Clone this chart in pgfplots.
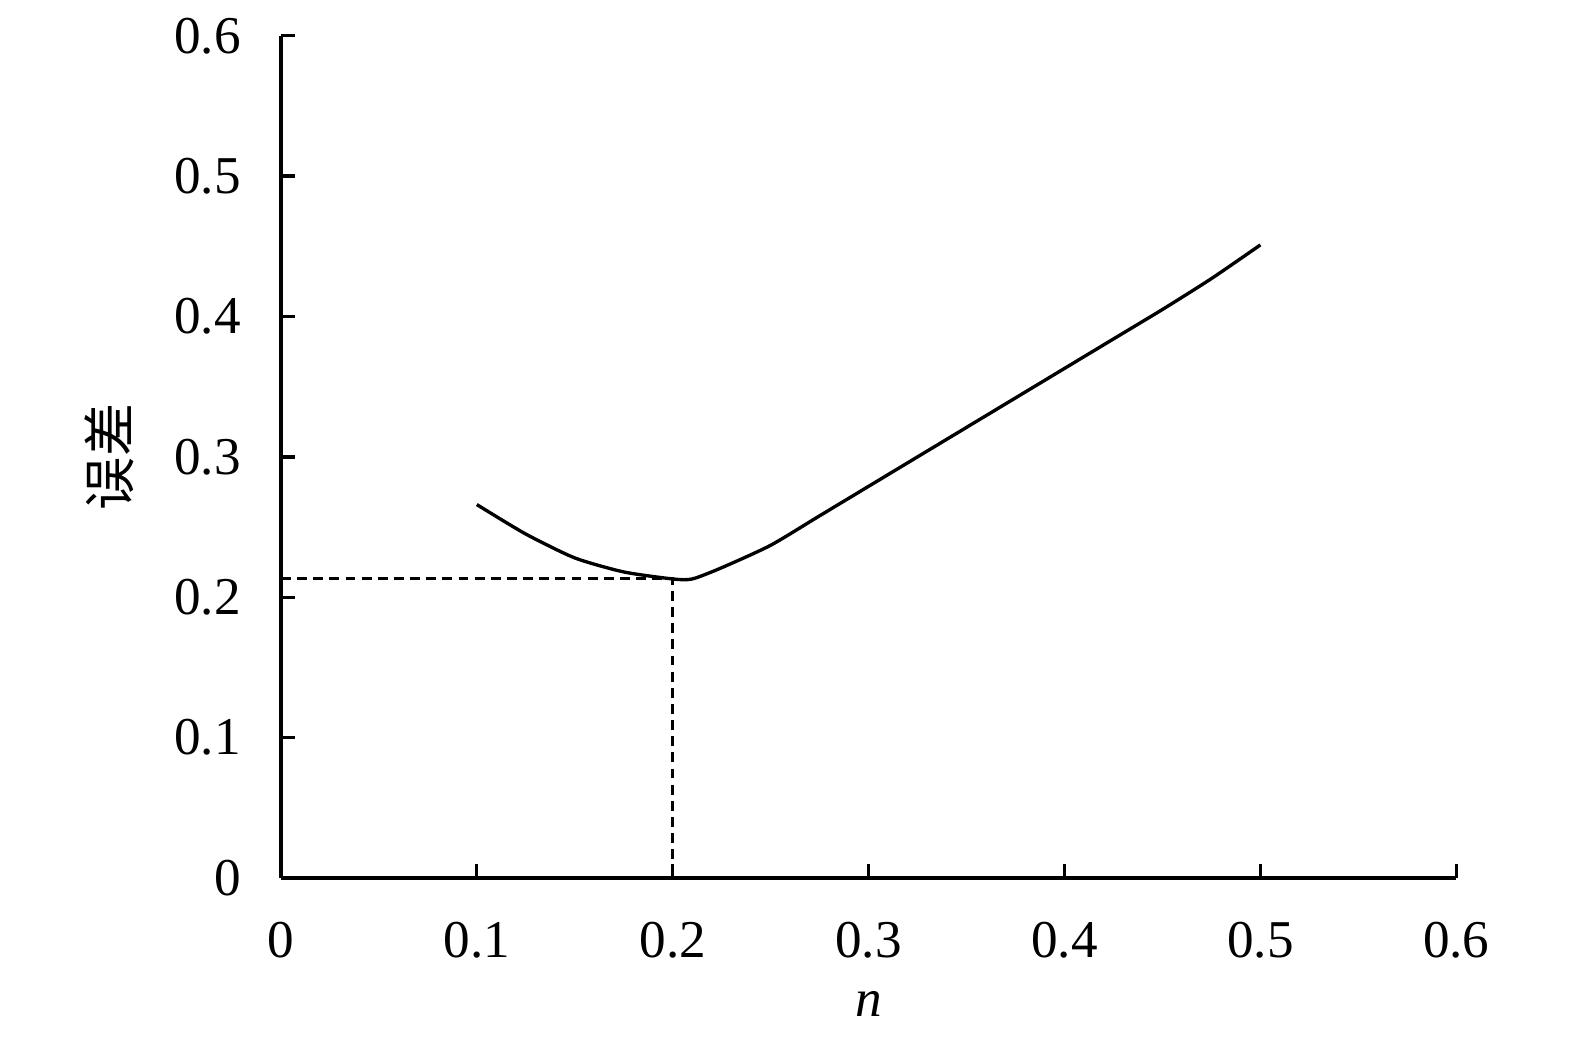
\documentclass[border=0pt]{standalone}
\usepackage{pgfplots}
\pgfplotsset{compat=1.18}
\usepackage{fontspec}
\setmainfont{Liberation Serif}
\newfontfamily\cjk{Noto Sans CJK SC}

\begin{document}
\fontsize{13.5}{16}\selectfont
\begin{tikzpicture}
\begin{axis}[
    scale only axis,
    width=298.4pt, height=213.8pt,
    xmin=0, xmax=0.6, ymin=0, ymax=0.6,
    axis lines=left,
    axis line style={-, line width=0.85pt},
    every tick/.style={black, line width=0.85pt},
    tick align=inside,
    major tick length=3.5pt,
    xtick={0,0.1,...,0.6}, ytick={0,0.1,...,0.6},
    /pgf/number format/assume math mode=true,
    /pgf/number format/fixed,
    /pgf/number format/precision=1,
    xticklabel style={yshift=-6.5pt},
    yticklabel style={xshift=-5.5pt},
    xlabel={\textit{n}},
    ylabel={\cjk 误差},
    xlabel style={at={(rel axis cs:0.5,-0.15)}, anchor=center},
    ylabel style={at={(rel axis cs:-0.146,0.5)}, anchor=center, rotate=0},
    clip=false,
]
\path (rel axis cs:-0.239,-0.198) rectangle (rel axis cs:1.101,1.040);
\addplot[black, line width=0.85pt, smooth, tension=0.4] coordinates {
    (0.10,0.266) (0.125,0.245) (0.15,0.228) (0.175,0.218)
    (0.20,0.213) (0.21,0.213) (0.225,0.221) (0.25,0.237)
    (0.275,0.258) (0.30,0.279) (0.325,0.300) (0.35,0.321)
    (0.375,0.342) (0.40,0.363) (0.425,0.384) (0.45,0.405)
    (0.475,0.427) (0.50,0.451)
};
\addplot[black, line width=0.75pt, dash pattern=on 2.5pt off 1.6pt] coordinates {(0,0.213) (0.2,0.213) (0.2,0)};
\end{axis}
\end{tikzpicture}
\end{document}
